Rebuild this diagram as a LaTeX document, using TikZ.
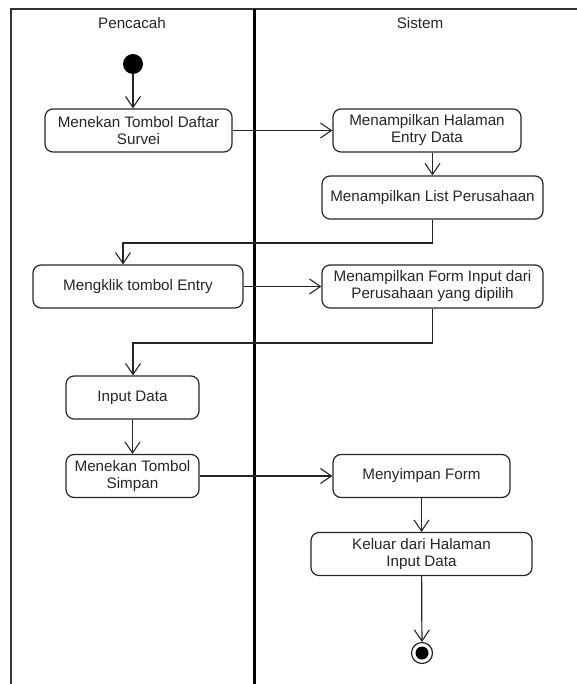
\documentclass[tikz,border=0pt]{standalone}
\usepackage{fontspec}
\setmainfont{Liberation Sans}
\usetikzlibrary{arrows.meta}
\begin{document}
\begin{tikzpicture}[x=1pt,y=-1pt,
  every node/.style={font=\fontsize{15.2}{17}\selectfont, text=black!85},
  act/.style={draw=black!85, line width=1.2pt, rounded corners=8pt,
    minimum height=43pt, inner sep=0pt, align=center},
  flow/.style={draw=black!85, line width=1.2pt,
    -{Straight Barb[length=11pt,width=15pt,line width=1.1pt]}},
  lane/.style={draw=black!80, line width=1.5pt},
  divider/.style={draw=black, line width=3pt}]
\useasboundingbox (0,0) rectangle (577,684);

% swimlane frame
\draw[lane] (11,684) -- (11,9) -- (577,9);
\draw[divider] (254,9) -- (254,684);
\node (lane1) at (132,23) {Pencacah};
\node (lane2) at (420,23) {Sistem};

% start and end
\node[circle, fill=black, minimum size=20pt, inner sep=0pt] (start) at (133,64) {};
\node[circle, draw=black!85, line width=1.2pt, fill=white, minimum size=21pt, inner sep=0pt] (end) at (422,653) {};
\node[circle, fill=black, minimum size=13pt, inner sep=0pt] (endin) at (end) {};

% activities
\node[act, minimum width=187pt] (n1) at (138.5,130.5) {Menekan Tombol Daftar\\Survei};
\node[act, minimum width=188pt] (n2) at (427,130.5) {Menampilkan Halaman\\Entry Data};
\node[act, minimum width=221pt] (n3) at (432.5,197.5) {Menampilkan List Perusahaan};
\node[act, minimum width=210pt] (n4) at (138,286.5) {Mengklik tombol Entry};
\node[act, minimum width=221pt] (n5) at (432.5,286.5) {Menampilkan Form Input dari\\Perusahaan yang dipilih};
\node[act, minimum width=133pt] (n6) at (132.5,397.5) {Input Data};
\node[act, minimum width=133pt] (n7) at (132.5,476) {Menekan Tombol\\Simpan};
\node[act, minimum width=177pt] (n8) at (421.5,476) {Menyimpan Form};
\node[act, minimum width=221pt] (n9) at (421.5,554) {Keluar dari Halaman\\Input Data};

% bend points
\coordinate (b1) at (123,243);
\coordinate (b2) at (133,343);

% control flow
\draw[flow] (start) -- (start |- n1.north);
\draw[flow] (n1) -- (n2);
\draw[flow] (n2.south -| n3) -- (n3.north);
\draw[flow] (n3.south) |- (b1) -- (b1 |- n4.north);
\draw[flow] (n4) -- (n5);
\draw[flow] (n5.south) |- (b2) -- (b2 |- n6.north);
\draw[flow] (n6) -- (n7);
\draw[flow] (n7) -- (n8);
\draw[flow] (n8) -- (n9);
\draw[flow] (n9) -- (end);
\end{tikzpicture}
\end{document}
